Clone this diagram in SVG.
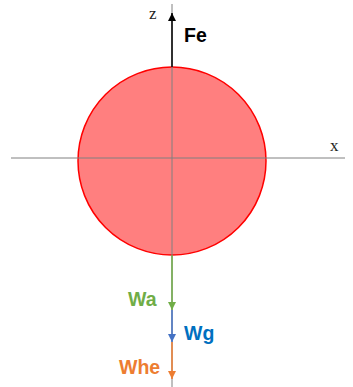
<svg xmlns="http://www.w3.org/2000/svg" width="353" height="387" viewBox="0 0 353 387">
<style>
.axis{stroke:#808080;stroke-width:1;fill:none}
.lbl{font-family:"Liberation Sans",Arial,sans-serif;font-weight:bold;font-size:19.5px}
.ax{font-family:"Liberation Serif","Times New Roman",serif;font-size:17px;fill:#222}
</style>
<defs>
<marker id="ab" viewBox="0 0 10 10" refX="10" refY="5" markerWidth="8" markerHeight="8" markerUnits="userSpaceOnUse" orient="auto"><path d="M0,0L10,5L0,10z" fill="#000"/></marker>
<marker id="ag" viewBox="0 0 10 10" refX="10" refY="5" markerWidth="8" markerHeight="8" markerUnits="userSpaceOnUse" orient="auto"><path d="M0,0L10,5L0,10z" fill="#70AD47"/></marker>
<marker id="abl" viewBox="0 0 10 10" refX="10" refY="5" markerWidth="8" markerHeight="8" markerUnits="userSpaceOnUse" orient="auto"><path d="M0,0L10,5L0,10z" fill="#4472C4"/></marker>
<marker id="ao" viewBox="0 0 10 10" refX="10" refY="5" markerWidth="8" markerHeight="8" markerUnits="userSpaceOnUse" orient="auto"><path d="M0,0L10,5L0,10z" fill="#ED7D31"/></marker>
</defs>
<g id="sphere"><circle cx="172" cy="161" r="94" fill="#FF7F7F" stroke="#FF0000" stroke-width="1.5"/></g>
<g id="axes">
<line class="axis" x1="11" y1="158" x2="345" y2="158"/>
<line class="axis" x1="172" y1="4" x2="172" y2="387"/>
<text class="ax" x="149" y="19">z</text>
<text class="ax" x="330" y="151">x</text>
</g>
<g id="connectors">
<line x1="172" y1="67" x2="172" y2="13" stroke="#000" stroke-width="1.5" marker-end="url(#ab)"/>
<line x1="172" y1="255" x2="172" y2="310" stroke="#70AD47" stroke-width="1.5" marker-end="url(#ag)"/>
<line x1="172" y1="310" x2="172" y2="342" stroke="#4472C4" stroke-width="1.5" marker-end="url(#abl)"/>
<line x1="172" y1="342" x2="172" y2="379" stroke="#ED7D31" stroke-width="1.5" marker-end="url(#ao)"/>
</g>
<g id="Fe"><text class="lbl" x="184" y="42" fill="#000">Fe</text></g>
<g id="Wa"><text class="lbl" x="128" y="306" fill="#70AD47">Wa</text></g>
<g id="Wg"><text class="lbl" x="184" y="340" fill="#0070C0">Wg</text></g>
<g id="Whe"><text class="lbl" x="119" y="374" fill="#ED7D31">Whe</text></g>
</svg>
